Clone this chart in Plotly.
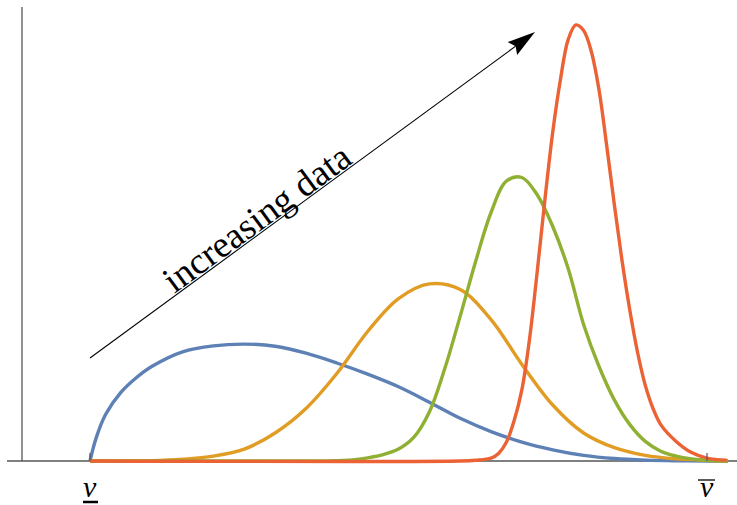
import math
import plotly.graph_objects as go

# ---------------- data ----------------
# x: position between v_low (0) and v_high (1); y: density
blue_x = [0.000, 0.010, 0.025, 0.050, 0.075, 0.100, 0.150, 0.200, 0.250, 0.300,
          0.350, 0.400, 0.450, 0.500, 0.550, 0.600, 0.650, 0.700, 0.750, 0.800,
          0.850, 0.900, 0.950, 1.000, 1.034]
blue_y = [0.00, 0.33, 0.66, 0.98, 1.19, 1.35, 1.56, 1.645, 1.67, 1.64,
          1.54, 1.40, 1.24, 1.06, 0.84, 0.61, 0.42, 0.27, 0.16, 0.08,
          0.035, 0.013, 0.004, 0.001, 0.0]

orange_x = [0.000, 0.100, 0.150, 0.200, 0.250, 0.300, 0.350, 0.400, 0.450, 0.500,
            0.550, 0.600, 0.650, 0.700, 0.750, 0.800, 0.850, 0.900, 0.950, 1.000,
            1.034]
orange_y = [0.00, 0.005, 0.025, 0.07, 0.17, 0.40, 0.75, 1.25, 1.85, 2.32,
            2.53, 2.45, 2.02, 1.38, 0.80, 0.40, 0.19, 0.08, 0.03, 0.01,
            0.0]

green_x = [0.000, 0.350, 0.400, 0.425, 0.450, 0.475, 0.500, 0.525, 0.550, 0.575,
           0.600, 0.625, 0.650, 0.675, 0.700, 0.725, 0.750, 0.775, 0.800, 0.825,
           0.850, 0.875, 0.900, 0.925, 0.950, 0.975, 1.000, 1.034]
green_y = [0.00, 0.00, 0.005, 0.015, 0.045, 0.09, 0.17, 0.34, 0.70, 1.32,
           2.07, 2.85, 3.55, 4.00, 4.05, 3.80, 3.35, 2.75, 1.95, 1.35,
           0.87, 0.52, 0.28, 0.14, 0.07, 0.03, 0.01, 0.0]

red_x = [0.000, 0.600, 0.625, 0.650, 0.6625, 0.675, 0.6875, 0.700, 0.7125, 0.725,
         0.7375, 0.750, 0.7625, 0.775, 0.7875, 0.800, 0.8125, 0.825, 0.8375, 0.850,
         0.8625, 0.875, 0.8875, 0.900, 0.9125, 0.925, 0.950, 0.975, 1.000, 1.032]
red_y = [0.00, 0.00, 0.01, 0.04, 0.11, 0.27, 0.58, 1.02, 1.75, 2.72,
         3.75, 4.70, 5.45, 6.02, 6.23, 6.15, 5.85, 5.30, 4.50, 3.65,
         2.85, 2.15, 1.55, 1.08, 0.75, 0.52, 0.28, 0.12, 0.04, 0.01]

series_names = ["few data", "more data", "much data", "most data"]
series_colors = ["#5E81B5", "#E19C24", "#8FB032", "#EB6235"]

tick_vals = [0.0, 1.0]
arrow_label = "increasing data"

# ---------------- layout geometry ----------------
W, H = 737, 505
X0PX, X1PX = 90, 707      # pixel columns of v_low / v_high
Y0PX = 461                # pixel row of the x axis
YSCALE = 70.0             # pixels per density unit


def px_x(px):
    return (px - X0PX) / (X1PX - X0PX)


def px_y(py):
    return (Y0PX - py) / YSCALE


fig = go.Figure()
for xs, ys, name, col in zip([blue_x, orange_x, green_x, red_x],
                             [blue_y, orange_y, green_y, red_y],
                             series_names, series_colors):
    fig.add_trace(go.Scatter(x=xs, y=ys, mode="lines", name=name,
                             line=dict(color=col, width=3.4, shape="spline", smoothing=1.0),
                             hoverinfo="skip"))

axis_col = "#555555"
shapes = [
    dict(type="line", xref="x", yref="y", x0=px_x(7), x1=px_x(737), y0=0, y1=0,
         line=dict(color=axis_col, width=1.3), layer="below"),
    dict(type="line", xref="x", yref="y", x0=px_x(22), x1=px_x(22), y0=0, y1=px_y(7),
         line=dict(color=axis_col, width=1.3), layer="below"),
]
for tv in tick_vals:
    shapes.append(dict(type="line", xref="x", yref="y", x0=tv, x1=tv, y0=0, y1=px_y(453),
                       line=dict(color=axis_col, width=1.2)))

# underline / overline of the tick labels
shapes.append(dict(type="line", xref="x", yref="y", x0=px_x(83), x1=px_x(98),
                   y0=px_y(502), y1=px_y(502), line=dict(color="black", width=2.5)))
shapes.append(dict(type="line", xref="x", yref="y", x0=px_x(698), x1=px_x(715),
                   y0=px_y(480), y1=px_y(480), line=dict(color="black", width=1.3)))

# arrow
tx, ty = 90, 358
hx, hy = 535, 32
L = math.hypot(hx - tx, hy - ty)
dx, dy = (hx - tx) / L, (hy - ty) / L
nx, ny = -dy, dx
HL, HW, NOTCH = 28, 8, 4
bx, by = hx - HL * dx, hy - HL * dy
c1 = (bx + HW * nx, by + HW * ny)
c2 = (bx - HW * nx, by - HW * ny)
nb = (hx - (HL - NOTCH) * dx, hy - (HL - NOTCH) * dy)
shapes.append(dict(type="line", xref="x", yref="y", x0=px_x(tx), y0=px_y(ty),
                   x1=px_x(nb[0]), y1=px_y(nb[1]), line=dict(color="black", width=1.1)))
path = "M {},{} L {},{} L {},{} L {},{} Z".format(
    px_x(hx), px_y(hy), px_x(c1[0]), px_y(c1[1]), px_x(nb[0]), px_y(nb[1]),
    px_x(c2[0]), px_y(c2[1]))
shapes.append(dict(type="path", xref="x", yref="y", path=path, fillcolor="black",
                   line=dict(width=0)))

angle = math.degrees(math.atan2(ty - hy, hx - tx))
serif = "Liberation Serif, Times New Roman, serif"

annotations = [
    dict(x=px_x(256), y=px_y(218), xref="x", yref="y", text=arrow_label, showarrow=False,
         textangle=-angle, xanchor="center", yanchor="middle",
         font=dict(family=serif, size=37, color="black")),
]
for tv in tick_vals:
    annotations.append(dict(x=tv, y=px_y(504), xref="x", yref="y", text="<i>v</i>",
                            showarrow=False, xanchor="center", yanchor="bottom", borderpad=0,
                            font=dict(family=serif, size=30, color="black")))

fig.update_layout(
    width=W, height=H,
    margin=dict(l=0, r=0, t=0, b=0),
    paper_bgcolor="white", plot_bgcolor="white",
    showlegend=False,
    xaxis=dict(range=[px_x(0), px_x(W)], visible=False, fixedrange=True),
    yaxis=dict(range=[px_y(H), px_y(0)], visible=False, fixedrange=True),
    shapes=shapes,
    annotations=annotations,
)

fig.write_html("out.html", config={"displayModeBar": False},
               post_script="document.body.style.margin='0';document.body.style.overflow='hidden';")
